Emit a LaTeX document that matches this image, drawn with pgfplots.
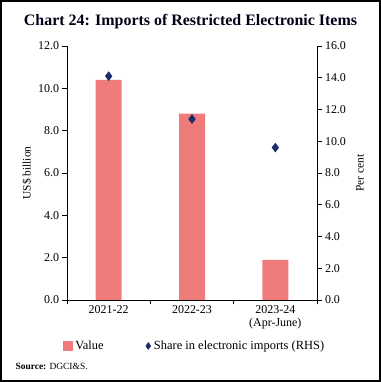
\documentclass[border=0pt]{standalone}
\usepackage{pgfplots}
\pgfplotsset{compat=1.18}
\usepackage{fontspec}
\setmainfont{Liberation Serif}
\definecolor{barcol}{HTML}{F07B7B}
\definecolor{dia}{HTML}{1B2A6B}
\begin{document}
\begin{tikzpicture}[x=1bp,y=1bp]
\useasboundingbox (0,0) rectangle (381,382);
\draw[line width=1.2bp] (1,1) rectangle (380,381);
\node[font=\fontsize{16}{18}\selectfont\bfseries, text=black!90!blue] at (190.5,360) {Chart 24: Imports of Restricted Electronic Items};
\node[font=\fontsize{9.5}{11}\selectfont, anchor=west] at (12,16) {\textbf{Source:} DGCI\&S.};
\begin{axis}[
  at={(67bp,82bp)}, anchor=south west,
  scale only axis, width=250bp, height=254bp,
  xmin=0, xmax=3, ymin=0, ymax=12,
  axis y line*=left, axis x line*=bottom,
  axis line style={line width=0.8bp,-},
  ytick={0,2,...,12},
  yticklabel style={/pgf/number format/.cd, fixed, fixed zerofill, precision=1},
  /pgf/number format/assume math mode=true,
  ticklabel style={font=\fontsize{12}{13}\selectfont},
  tick align=outside, major tick length=4.5bp,
  tick style={line width=0.8bp, black},
  xtick={0,1,2,3}, xticklabels={},
  extra x ticks={0.5,1.5,2.5},
  extra x tick labels={2021-22,2022-23,{2023-24\\(Apr-June)}},
  extra x tick style={major tick length=0bp, xticklabel style={align=center, yshift=-2bp}},
  ylabel={US\$ billion},
  ylabel style={at={(axis description cs:-0.16,0.5)}, anchor=center, font=\fontsize{11.5}{12}\selectfont},
  clip=false,
]
\addplot[ybar, bar width=26bp, fill=barcol, draw=none, forget plot] coordinates {(0.5,10.4) (1.5,8.8) (2.5,1.9)};
\end{axis}
\begin{axis}[
  at={(67bp,82bp)}, anchor=south west,
  scale only axis, width=250bp, height=254bp,
  xmin=0, xmax=3, ymin=0, ymax=16,
  axis y line*=right, axis x line=none,
  axis line style={line width=0.8bp,-},
  ytick={0,2,...,16},
  yticklabel style={/pgf/number format/.cd, fixed, fixed zerofill, precision=1},
  /pgf/number format/assume math mode=true,
  ticklabel style={font=\fontsize{12}{13}\selectfont},
  tick align=outside, major tick length=4.5bp,
  tick style={line width=0.8bp, black},
  ylabel={Per cent},
  ylabel style={at={(axis description cs:1.172,0.5)}, anchor=center, font=\fontsize{11.5}{12}\selectfont},
  legend columns=2,
  legend style={at={(axis description cs:0.51,-0.181)}, anchor=center, draw=none, fill=none,
    font=\fontsize{12.5}{13}\selectfont, column sep=1bp, /tikz/column 2/.style={column sep=40bp}},
  legend cell align=left,
  clip=false,
]
\addlegendimage{legend image code/.code={\fill[barcol] (0bp,-4.5bp) rectangle (9bp,4.5bp);}}
\addlegendentry{Value}
\addplot[only marks, mark=diamond*, mark size=4.5bp, color=dia,
  legend image code/.code={\fill[dia] (4bp,0) -- (6.5bp,3.5bp) -- (9bp,0) -- (6.5bp,-3.5bp) -- cycle;}] coordinates {(0.5,14.1) (1.5,11.4) (2.5,9.6)};
\addlegendentry{Share in electronic imports (RHS)}
\end{axis}
\end{tikzpicture}
\end{document}
